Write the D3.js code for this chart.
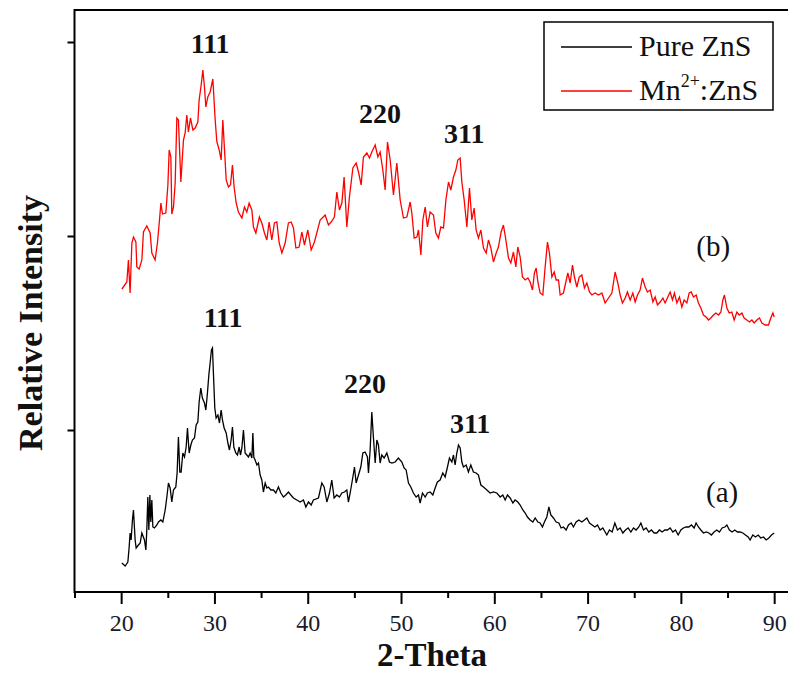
<!DOCTYPE html>
<html>
<head>
<meta charset="utf-8">
<script src="https://cdn.jsdelivr.net/npm/d3@7"></script>
<style>
  body { margin: 0; background: #fff; }
  svg { display: block; }
</style>
</head>
<body>
<svg id="chart" width="788" height="673"></svg>
<script>
// XRD patterns of ZnS nanoparticles: 2-theta (degrees) vs intensity (a.u.)

// (a) pure ZnS
const pureTheta = [
  20.08,20.43,20.72,20.86,20.96,21.07,21.21,21.32,21.50,21.61,
  21.85,22.04,22.22,22.50,22.65,22.75,22.86,22.97,23.08,23.18,
  23.29,23.40,23.57,23.83,24.00,24.26,24.47,24.72,24.90,25.07,
  25.25,25.43,25.61,25.86,26.00,26.14,26.29,26.43,26.61,26.79,
  26.97,27.11,27.29,27.47,27.64,27.86,28.04,28.22,28.36,28.54,
  28.71,28.93,29.08,29.25,29.40,29.54,29.68,29.79,29.89,30.04,
  30.18,30.37,30.54,30.72,30.86,31.04,31.26,31.44,31.61,31.79,
  31.93,32.08,32.29,32.47,32.65,32.79,32.94,33.11,33.29,33.47,
  33.65,33.83,34.01,34.12,34.22,34.36,34.55,34.72,34.90,35.08,
  35.25,35.44,35.62,35.79,36.05,36.33,36.58,36.86,37.12,37.40,
  37.65,37.93,38.19,38.47,38.83,39.19,39.54,39.80,40.08,40.37,
  40.61,41.15,41.51,41.76,42.05,42.33,42.58,42.83,43.12,43.40,
  43.66,43.94,44.19,44.36,44.55,44.84,45.01,45.19,45.44,45.69,
  45.91,46.15,46.40,46.51,46.69,46.87,47.04,47.23,47.41,47.58,
  47.76,47.94,48.19,48.48,48.76,49.02,49.37,49.72,50.09,50.33,
  50.55,50.80,51.05,51.33,51.62,51.87,52.05,52.30,52.59,52.83,
  53.12,53.41,53.66,53.90,54.19,54.48,54.73,54.98,55.19,55.45,
  55.62,55.80,55.98,56.16,56.34,56.52,56.69,56.98,57.23,57.48,
  57.76,58.05,58.30,58.56,58.84,59.20,59.55,59.91,60.27,60.63,
  60.91,61.16,61.41,61.70,61.99,62.23,62.52,62.77,63.06,63.31,
  63.55,63.84,64.13,64.38,64.67,64.91,65.16,65.37,65.63,65.85,
  66.06,66.34,66.63,66.92,67.16,67.41,67.70,67.95,68.24,68.48,
  68.77,69.06,69.38,69.66,69.92,70.20,70.49,70.78,71.06,71.34,
  71.63,71.88,72.06,72.34,72.63,72.92,73.20,73.49,73.78,74.06,
  74.35,74.64,74.92,75.20,75.49,75.71,75.99,76.28,76.56,76.84,
  77.13,77.42,77.70,77.99,78.28,78.56,78.85,79.14,79.42,79.71,
  80.00,80.27,80.56,80.85,81.13,81.42,81.63,81.88,82.14,82.42,
  82.71,83.00,83.27,83.56,83.85,84.13,84.42,84.71,84.93,85.20,
  85.49,85.78,86.06,86.35,86.64,86.92,87.21,87.42,87.71,87.99,
  88.28,88.57,88.85,89.14,89.43,89.71,90.00
];
const pureIntensity = [
  61,58,62,77,91,84,104,114,84,76,
  79,81,91,84,74,94,127,94,129,102,
  124,97,96,99,102,104,102,114,127,141,
  136,122,134,137,151,187,152,152,171,167,
  177,196,171,179,184,186,199,202,222,236,
  226,221,214,231,249,261,274,276,251,216,
  206,209,201,214,204,196,191,181,174,184,
  197,177,171,169,177,169,176,194,171,169,
  167,171,166,191,167,164,159,161,149,144,
  132,141,136,137,134,134,131,137,131,127,
  129,132,129,126,124,122,124,117,122,119,
  124,126,141,137,122,131,144,126,129,127,
  131,132,134,122,131,147,157,141,149,157,
  171,172,167,151,174,212,187,161,184,179,
  161,169,166,171,162,161,162,166,162,156,
  154,141,137,131,127,129,121,131,127,131,
  132,129,136,142,144,151,147,157,166,162,
  169,159,171,179,176,162,157,159,152,159,
  152,151,149,139,137,134,131,132,131,127,
  129,124,129,126,121,124,122,119,114,111,
  107,104,102,106,102,101,97,102,107,117,
  109,106,102,101,96,97,94,99,101,97,
  102,104,102,104,106,101,99,97,99,94,
  96,92,89,94,92,101,94,96,91,94,
  96,92,96,94,97,101,94,96,92,94,
  91,91,94,92,94,94,96,92,94,89,
  94,96,97,97,99,96,101,97,94,91,
  92,91,89,92,94,92,96,97,99,94,
  92,94,92,92,91,89,87,84,89,87,
  89,86,87,84,86,89,91
];

// (b) Mn2+ doped ZnS
const mnTheta = [
  20.08,20.61,20.78,20.96,21.15,21.32,21.58,21.68,21.93,22.22,
  22.39,22.75,23.11,23.29,23.64,23.89,24.11,24.26,24.43,24.79,
  25.01,25.15,25.33,25.43,25.61,25.79,25.97,26.14,26.40,26.68,
  26.86,27.04,27.21,27.43,27.69,27.93,28.22,28.36,28.58,28.76,
  28.93,29.08,29.29,29.54,29.83,30.08,30.26,30.51,30.72,30.90,
  31.04,31.26,31.50,31.72,31.93,32.11,32.33,32.57,32.94,33.22,
  33.47,33.72,34.01,34.18,34.44,34.82,35.08,35.36,35.62,35.86,
  36.15,36.43,36.69,36.94,37.23,37.58,37.93,38.22,38.47,38.73,
  39.08,39.37,39.65,40.01,40.37,40.72,41.33,41.87,42.22,42.51,
  42.86,43.12,43.40,43.66,43.90,44.19,44.47,44.84,45.19,45.44,
  45.73,45.97,46.34,46.62,46.87,47.23,47.52,47.76,48.05,48.30,
  48.55,48.84,49.19,49.55,49.91,50.26,50.63,50.98,51.16,51.41,
  51.70,51.87,52.13,52.34,52.59,52.83,53.12,53.48,53.73,54.01,
  54.27,54.55,54.81,55.09,55.34,55.62,55.88,56.09,56.34,56.52,
  56.77,57.06,57.34,57.59,57.84,58.05,58.30,58.56,58.84,59.13,
  59.37,59.63,59.91,60.20,60.44,60.73,60.98,61.24,61.52,61.77,
  62.05,62.31,62.52,62.77,63.02,63.31,63.60,63.84,64.09,64.30,
  64.49,64.67,64.91,65.20,65.45,65.70,65.91,66.17,66.42,66.63,
  66.88,67.06,67.41,67.67,67.88,68.13,68.38,68.59,68.85,69.10,
  69.38,69.66,69.92,70.20,70.46,70.81,71.17,71.53,71.88,72.24,
  72.60,72.95,73.24,73.49,73.74,74.03,74.27,74.56,74.85,75.10,
  75.35,75.63,75.88,76.17,76.42,76.71,77.00,77.24,77.49,77.78,
  78.07,78.31,78.60,78.85,79.10,79.31,79.57,79.85,80.10,80.35,
  80.64,80.89,81.10,81.35,81.64,81.88,82.14,82.42,82.71,82.96,
  83.21,83.49,83.75,84.03,84.29,84.50,84.67,84.93,85.18,85.46,
  85.71,86.00,86.25,86.54,86.78,87.07,87.35,87.61,87.85,88.14,
  88.42,88.68,89.03,89.39,89.64,89.86,90.00
];
const mnIntensity = [
  335,342,364,331,381,387,382,357,355,364,
  392,398,391,371,364,381,404,421,410,411,
  439,474,467,410,417,441,506,504,442,484,
  491,509,492,506,494,496,502,524,539,554,
  537,517,527,532,545,504,482,474,464,504,
  481,444,437,439,459,437,421,412,406,417,
  412,421,414,397,391,407,401,391,384,402,
  384,401,402,381,371,381,401,402,396,376,
  377,392,379,394,374,382,404,409,399,402,
  407,432,414,421,447,397,427,456,461,452,
  439,467,471,466,472,479,467,472,454,434,
  482,464,429,461,424,406,407,422,411,386,
  387,394,369,404,417,397,412,409,391,386,
  397,396,424,442,434,447,454,464,466,442,
  424,397,436,404,416,394,386,394,376,371,
  384,376,362,371,377,392,399,384,366,361,
  372,357,377,367,347,344,346,342,334,351,
  356,342,331,329,357,382,371,347,352,344,
  344,329,331,342,351,341,359,347,337,347,
  349,336,341,332,329,331,329,331,321,326,
  331,352,341,329,321,326,332,324,331,322,
  329,334,346,337,332,334,322,327,319,322,
  326,321,327,332,324,331,321,327,317,324,
  321,331,332,327,329,321,316,309,307,304,
  306,309,311,309,312,324,329,316,311,312,
  304,312,309,311,306,304,302,304,301,304,
  306,301,299,299,306,311,307
];

const seriesNames = ["Pure ZnS", "Mn", "2+", ":ZnS"];
const xMajorTicks = [20, 30, 40, 50, 60, 70, 80, 90];
const xMinorTicks = [15, 25, 35, 45, 55, 65, 75, 85];
const yTicks = [194, 388, 582];

// Miller-index annotations, anchored at (2-theta, intensity)
const peakText = ["111", "220", "311", "111", "220", "311"];
const peakTheta = [29.54, 47.76, 56.77, 30.93, 46.15, 57.41];
const peakLevel = [571, 501, 481, 297, 231, 191];
const curveTags = ["(b)", "(a)"];
const tagTheta = [83.46, 84.42];
const tagLevel = [368, 122];

const svg = d3.select("#chart");
const plotLeft = 74.5, plotTop = 10, plotBottom = 592, plotRight = 797.5;

const x = d3.scaleLinear().domain([15, 92.5]).range([plotLeft, plotRight]);
const y = d3.scaleLinear().domain([32, 614]).range([plotBottom, plotTop]);

const serif = "'Liberation Serif', 'Times New Roman', serif";

// frame (right edge falls outside the page)
svg.append("rect")
  .attr("x", plotLeft).attr("y", plotTop)
  .attr("width", plotRight - plotLeft).attr("height", plotBottom - plotTop)
  .attr("fill", "none").attr("stroke", "#000").attr("stroke-width", 2);

// bottom axis: labelled major ticks and minor ticks
const xAxis = svg.append("g").attr("transform", `translate(0,${plotBottom})`)
  .call(d3.axisBottom(x).tickValues(xMajorTicks).tickSize(12).tickSizeOuter(0)
    .tickPadding(10).tickFormat(d3.format("d")));
xAxis.select(".domain").remove();
xAxis.selectAll(".tick line").attr("stroke", "#000").attr("stroke-width", 2);
xAxis.selectAll(".tick text")
  .attr("font-family", serif).attr("font-size", 24).attr("fill", "#1a1a2a");

const xMinor = svg.append("g").attr("transform", `translate(0,${plotBottom})`)
  .call(d3.axisBottom(x).tickValues(xMinorTicks).tickSize(6).tickSizeOuter(0).tickFormat(""));
xMinor.select(".domain").remove();
xMinor.selectAll(".tick line").attr("stroke", "#000").attr("stroke-width", 2);

// left axis: unlabelled ticks
const yAxis = svg.append("g").attr("transform", `translate(${plotLeft},0)`)
  .call(d3.axisLeft(y).tickValues(yTicks).tickSize(7).tickSizeOuter(0).tickFormat(""));
yAxis.select(".domain").remove();
yAxis.selectAll(".tick line").attr("stroke", "#000").attr("stroke-width", 2);

// traces
const line = d3.line().x(d => x(d[0])).y(d => y(d[1]));
svg.append("path").datum(d3.zip(pureTheta, pureIntensity))
  .attr("d", line).attr("fill", "none").attr("stroke", "#000")
  .attr("stroke-width", 1.3).attr("stroke-linejoin", "miter");
svg.append("path").datum(d3.zip(mnTheta, mnIntensity))
  .attr("d", line).attr("fill", "none").attr("stroke", "#ff0000")
  .attr("stroke-width", 1.3).attr("stroke-linejoin", "miter");

// peak indices
svg.append("g").selectAll("text").data(peakText).join("text")
  .attr("x", (d, i) => x(peakTheta[i]))
  .attr("y", (d, i) => y(peakLevel[i]))
  .attr("text-anchor", "middle")
  .attr("font-family", serif).attr("font-weight", "bold").attr("font-size", 28)
  .attr("fill", "#111").text(d => d);

svg.append("g").selectAll("text").data(curveTags).join("text")
  .attr("x", (d, i) => x(tagTheta[i]))
  .attr("y", (d, i) => y(tagLevel[i]))
  .attr("text-anchor", "middle")
  .attr("font-family", serif).attr("font-size", 29)
  .attr("fill", "#111").text(d => d);

// axis titles
svg.append("text")
  .attr("x", 432).attr("y", 666)
  .attr("text-anchor", "middle")
  .attr("font-family", serif).attr("font-weight", "bold").attr("font-size", 33)
  .attr("fill", "#111").text("2-Theta");

svg.append("text")
  .attr("transform", "translate(42,323) rotate(-90)")
  .attr("text-anchor", "middle")
  .attr("font-family", serif).attr("font-weight", "bold").attr("font-size", 34)
  .attr("fill", "#111").text("Relative Intensity");

// legend
const legend = svg.append("g");
legend.append("rect")
  .attr("x", 544).attr("y", 22).attr("width", 229).attr("height", 88)
  .attr("fill", "#fff").attr("stroke", "#000").attr("stroke-width", 1.5);
legend.append("line").attr("x1", 561).attr("x2", 632).attr("y1", 47).attr("y2", 47)
  .attr("stroke", "#000").attr("stroke-width", 1.3);
legend.append("line").attr("x1", 561).attr("x2", 632).attr("y1", 91).attr("y2", 91)
  .attr("stroke", "#ff0000").attr("stroke-width", 1.3);
legend.append("text").attr("x", 639).attr("y", 56)
  .attr("font-family", serif).attr("font-size", 30).attr("fill", "#111")
  .text(seriesNames[0]);
const mnLabel = legend.append("text").attr("x", 639).attr("y", 100)
  .attr("font-family", serif).attr("font-size", 30).attr("fill", "#111");
mnLabel.append("tspan").text(seriesNames[1]);
mnLabel.append("tspan").attr("font-size", 18).attr("dy", -13).text(seriesNames[2]);
mnLabel.append("tspan").attr("dy", 13).text(seriesNames[3]);
</script>
</body>
</html>
